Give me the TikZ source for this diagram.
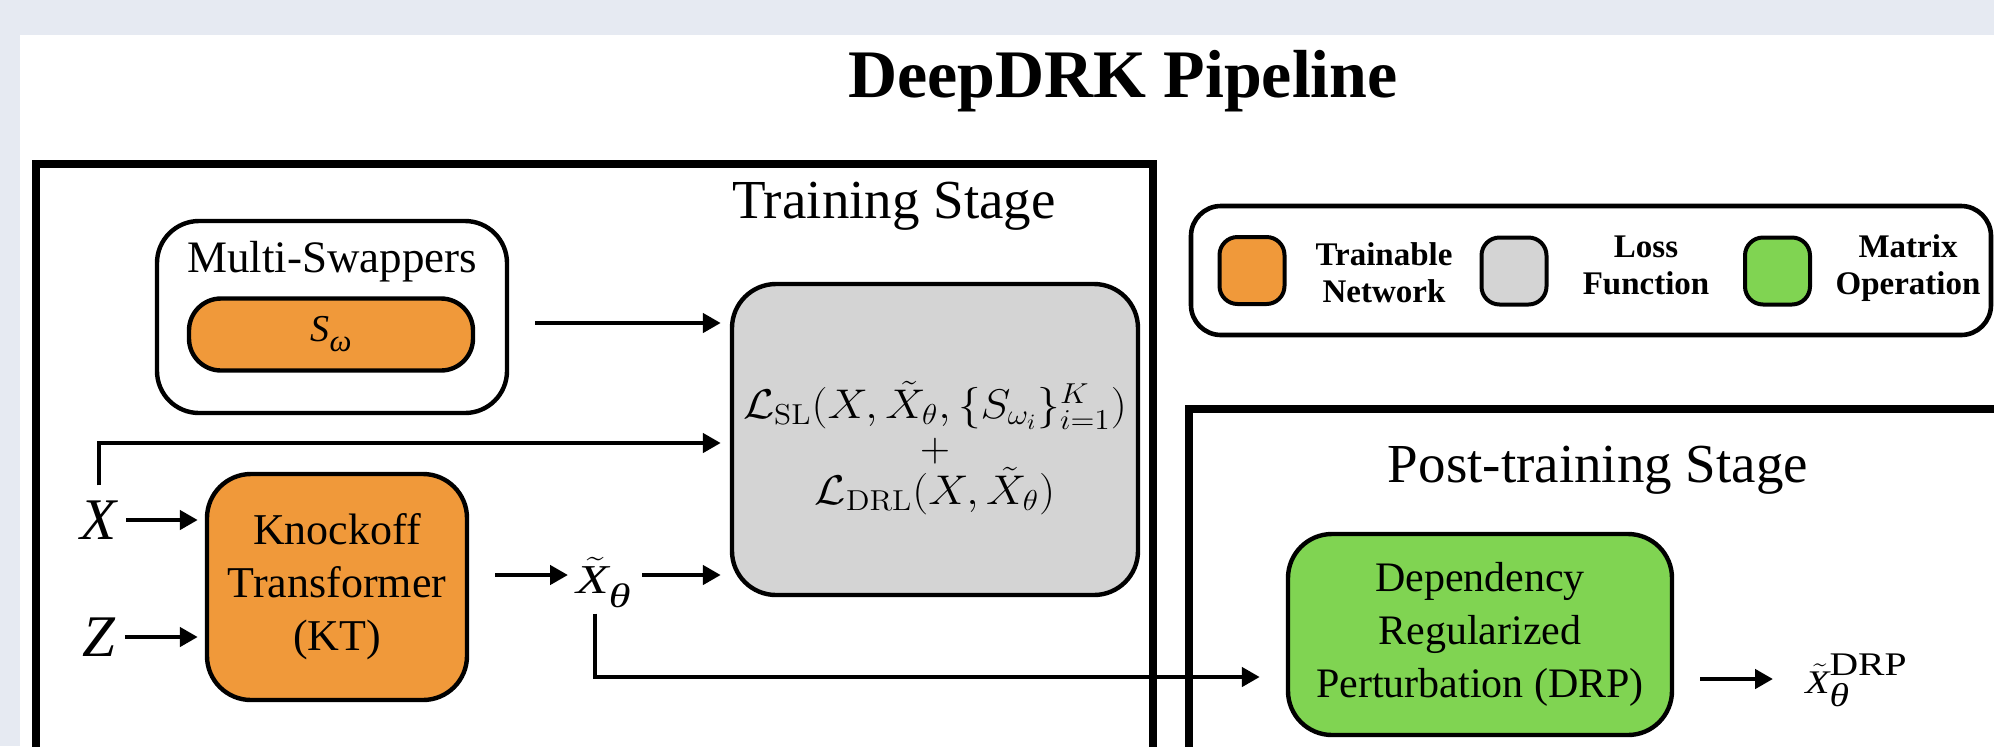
\documentclass[tikz,border=0pt]{standalone}
\usepackage[no-math]{fontspec}
\setmainfont{Liberation Serif}
\usepackage{amsmath}
\usepackage{graphicx}
\usetikzlibrary{arrows.meta}
\definecolor{panelbg}{HTML}{E6EAF2}
\definecolor{netorange}{HTML}{F0993A}
\definecolor{lossgray}{HTML}{D4D4D4}
\definecolor{opgreen}{HTML}{80D452}
\newcommand{\tX}{\ensuremath{\tilde{\text{\itshape X}\kern2pt}\kern-2pt}}
\begin{document}
\begin{tikzpicture}[x=0.5pt, y=-0.5pt,
  stageframe/.style={line width=4pt},
  stagetitle/.style={anchor=base, font=\fontsize{27.5}{33}\selectfont},
  block/.style={draw, line width=2.2pt, rounded corners=22pt, align=center, inner sep=0pt},
  swatch/.style={draw, line width=2pt, rounded corners=9pt, minimum width=32.5pt, minimum height=33.5pt},
  lgtext/.style={align=center, font=\fontsize{16.5}{18.5}\selectfont\bfseries},
  inlbl/.style={inner sep=0pt, font=\fontsize{29.5}{34}\selectfont\itshape},
  arr/.style={line width=2.3pt, -{Triangle[length=9pt,width=9.5pt]}}]
  \useasboundingbox (0,0) rectangle (1994,746);
  \clip (0,0) rectangle (1994,746);
  \fill [panelbg] (0,0) rectangle (1994,746);
  \fill [white] (20,35) rectangle (1994,746);
  \node [anchor=base, font=\fontsize{34}{40}\selectfont\bfseries] (title) at (1123,97) {DeepDRK Pipeline};

  % training stage
  \draw [stageframe] (36,164) rectangle (1152.5,790);
  \node [stagetitle] (trainlbl) at (894,218) {Training Stage};
  \node [block, minimum width=175pt, minimum height=96pt, rounded corners=21pt] (swap) at (332,317) {};
  \node [anchor=base, font=\fontsize{22.5}{27}\selectfont] (swaplbl) at (332,272) {Multi-Swappers};
  \node [block, fill=netorange, minimum width=142pt, minimum height=36pt, rounded corners=16pt,
    font=\fontsize{19}{22}\selectfont\itshape] (sw) at (331,334.5)
    {S\raisebox{-5pt}{\fontsize{15.5}{17}\selectfont ω}};
  \node [block, fill=lossgray, minimum width=203pt, minimum height=155.5pt] (loss) at (935,439.5) {};
  \node [align=center, font=\fontsize{22}{21.5}\selectfont] (lossfn) at (935,448)
    {\scalebox{1.09}[1]{$\mathcal{L}_{\mathrm{SL}}(X,\tilde{X}_\theta,\{S_{\omega_i}\}_{i=1}^{K})$}\\$+$\\
     \scalebox{1.09}[1]{$\mathcal{L}_{\mathrm{DRL}}(X,\tilde{X}_\theta)$}};
  \node [inlbl] (xin) at (99,520) {X};
  \node [inlbl] (zin) at (99,637) {Z};
  \node [block, fill=netorange, minimum width=130pt, minimum height=113pt,
    font=\fontsize{22}{26.5}\selectfont] (kt) at (337,587) {Knockoff\\Transformer\\(KT)};
  \node [inner sep=0pt, anchor=west] (xt) at (576,575)
    {\scalebox{1.3}[1]{\fontsize{20.5}{24}\selectfont\tX\smash{\raisebox{-7pt}{\fontsize{17}{20}\selectfont\itshape θ}}}};

  \draw [arr, shorten <=13pt, shorten >=4.5pt] ([yshift=-3pt]swap.east) -- ([yshift=-3pt]swap.east -| loss.west);
  \draw [arr, shorten <=7.5pt, shorten >=4.5pt] (xin.north) |- ([yshift=-1.75pt]loss.west);
  \draw [arr, shorten <=4.5pt, shorten >=3.5pt] (xin.east) -- (xin.east -| kt.west);
  \draw [arr, shorten <=4.5pt, shorten >=3.5pt] (zin.east) -- (zin.east -| kt.west);
  \draw [arr, shorten <=13pt, shorten >=4pt] (kt.east |- xt.west) -- (xt.west);
  \draw [arr, shorten <=5.5pt, shorten >=4.5pt] (xt.east) -- (xt.east -| loss.west);

  % post-training stage
  \draw [stageframe] (1189,409) rectangle (2030,790);
  \node [stagetitle] (postlbl) at (1598,482) {Post-training Stage};
  \node [block, fill=opgreen, minimum width=192pt, minimum height=100.5pt,
    font=\fontsize{21}{26.5}\selectfont] (drp) at (1480,634.5) {Dependency\\Regularized\\Perturbation (DRP)};
  \node [inner sep=0pt, anchor=west] (out) at (1805,679)
    {\scalebox{1.2}[1]{\fontsize{16.5}{20}\selectfont\tX\rlap{\smash{\raisebox{-6.5pt}{\itshape θ}}}\smash{\raisebox{9pt}{DRP}}}};
  \draw [arr, shorten <=10pt, shorten >=13pt] ([xshift=-4.25pt]xt.south) |- ([yshift=-21.25pt]drp.west);
  \draw [arr, shorten <=13pt, shorten >=16pt] (drp.east |- out.west) -- (out.west);

  % legend
  \node [draw, line width=2.3pt, rounded corners=15pt, minimum width=400pt, minimum height=64.5pt] (legend) at (1591,270.5) {};
  \node [swatch, fill=netorange] (swnet) at (1252,270.5) {};
  \node [lgtext] (lgnet) at (1384,273) {Trainable\\Network};
  \node [swatch, fill=lossgray] (swloss) at (1514,271) {};
  \node [lgtext] (lgloss) at (1646,265) {Loss\\Function};
  \node [swatch, fill=opgreen] (swop) at (1777.5,271) {};
  \node [lgtext] (lgop) at (1908,268) {Matrix\\Operation};
\end{tikzpicture}
\end{document}
